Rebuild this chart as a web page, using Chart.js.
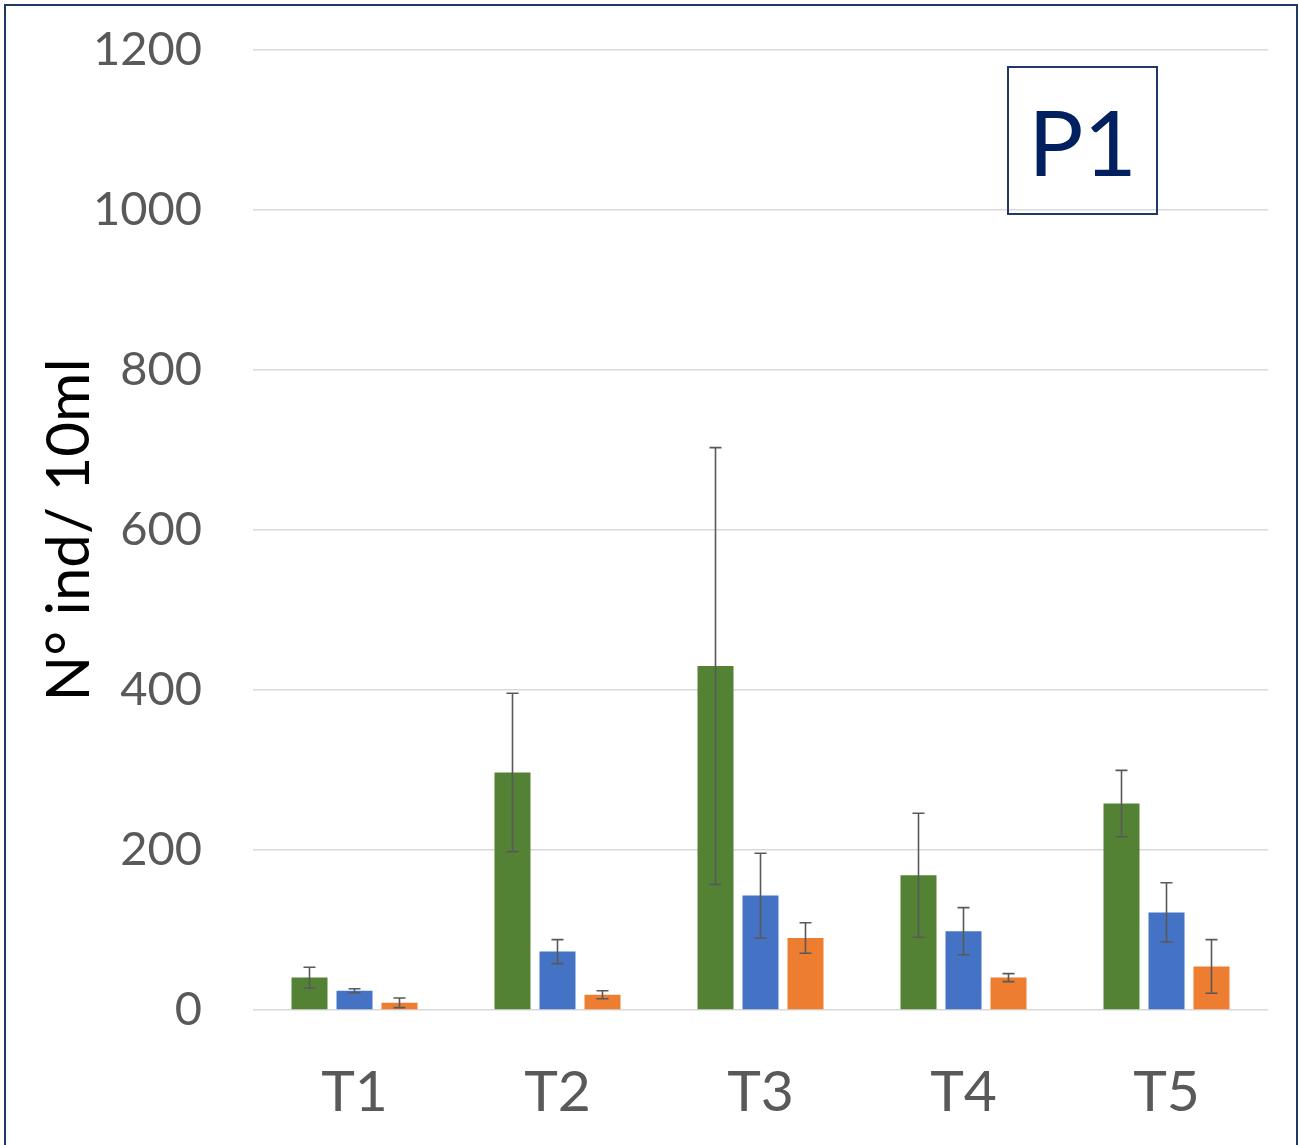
<!DOCTYPE html>
<html>
<head>
<meta charset="utf-8">
<script src="https://cdn.jsdelivr.net/npm/chart.js@4.4.0/dist/chart.umd.min.js"></script>
<style>
  html, body { margin: 0; padding: 0; background: #fff; }
  #wrap { position: relative; width: 1299px; height: 1145px; overflow: hidden; }
  #frame { position: absolute; left: 4px; top: 4px; width: 1290px; height: 1160px; border: 2px solid #1F3864; }
  #tag { position: absolute; left: 1007px; top: 66px; width: 147px; height: 145px; border: 2px solid #1F3864;
         color: #002060; font-family: Lato, sans-serif; font-size: 92px; line-height: 145px; text-align: center; }
  canvas { position: absolute; left: 0; top: 0; }
</style>
</head>
<body>
<div id="wrap">
  <canvas id="chart" width="1299" height="1145"></canvas>
  <div id="frame"></div>
  <div id="tag">P1</div>
</div>
<script>
const categories = ['T1', 'T2', 'T3', 'T4', 'T5'];
const greenValues = [40.5, 297, 430, 168.5, 258];
const greenErrors = [13, 99, 273, 77.5, 41.5];
const blueValues = [24, 73, 143, 98.5, 122];
const blueErrors = [2.5, 15, 53, 29.5, 37];
const orangeValues = [9, 19, 90, 40.5, 54.5];
const orangeErrors = [6, 5, 19, 5, 33.5];
const yTicks = [0, 200, 400, 600, 800, 1000, 1200];

// draws the +/- error bars on top of each bar
const errorBars = {
    id: 'errorBars',
    afterDatasetsDraw(chart) {
        const ctx = chart.ctx;
        const y = chart.scales.y;
        ctx.save();
        ctx.strokeStyle = '#595959';
        ctx.lineWidth = 1.6;
        chart.data.datasets.forEach((ds, i) => {
            const meta = chart.getDatasetMeta(i);
            meta.data.forEach((bar, j) => {
                const v = ds.data[j];
                const e = ds.errors[j];
                const top = y.getPixelForValue(v + e);
                const bottom = y.getPixelForValue(v - e);
                ctx.beginPath();
                ctx.moveTo(bar.x, top);
                ctx.lineTo(bar.x, bottom);
                ctx.moveTo(bar.x - 6, top);
                ctx.lineTo(bar.x + 6, top);
                ctx.moveTo(bar.x - 6, bottom);
                ctx.lineTo(bar.x + 6, bottom);
                ctx.stroke();
            });
        });
        ctx.restore();
    }
};

new Chart(document.getElementById('chart').getContext('2d'), {
    type: 'bar',
    data: {
        labels: categories,
        datasets: [
            { label: 'Serie 1', data: greenValues, errors: greenErrors, backgroundColor: '#548235' },
            { label: 'Serie 2', data: blueValues, errors: blueErrors, backgroundColor: '#4472C4' },
            { label: 'Serie 3', data: orangeValues, errors: orangeErrors, backgroundColor: '#ED7D31' }
        ]
    },
    options: {
        responsive: false,
        animation: false,
        categoryPercentage: 0.665,
        barPercentage: 0.8,
        layout: { padding: { left: 0, right: 31, top: 50, bottom: 0 } },
        plugins: {
            legend: { display: false },
            tooltip: { enabled: false }
        },
        scales: {
            x: {
                grid: { display: false, drawTicks: false },
                border: { display: false },
                ticks: {
                    color: '#595959',
                    padding: 48,
                    font: { family: 'Lato', size: 57 }
                },
                afterFit: (s) => { s.height = 135; }
            },
            y: {
                min: 0,
                max: 1200,
                afterBuildTicks: (s) => { s.ticks = yTicks.map(v => ({ value: v })); },
                grid: { color: '#D9D9D9', lineWidth: 1.5, drawTicks: false },
                border: { display: false },
                ticks: {
                    color: '#595959',
                    padding: 51,
                    font: { family: 'Lato', size: 47 },
                    callback: (v) => String(v)
                },
                title: {
                    display: true,
                    text: 'N° ind/ 10ml',
                    color: '#000000',
                    font: { family: 'Lato', size: 60 },
                    padding: { top: 34, bottom: 0 }
                },
                afterFit: (s) => {
                    s.width = 253;
                    s.paddingTop = 0;
                    s.paddingBottom = 0;
                }
            }
        }
    },
    plugins: [errorBars]
});
</script>
</body>
</html>
